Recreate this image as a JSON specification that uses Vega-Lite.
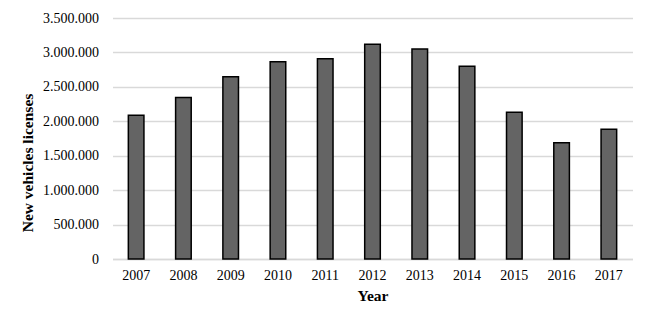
{
  "$schema": "https://vega.github.io/schema/vega-lite/v6.json",
  "width": 520,
  "height": 241,
  "autosize": "none",
  "padding": {"left": 112.5, "top": 18, "right": 17.5, "bottom": 67},
  "background": "white",
  "config": {
    "locale": {"number": {"decimal": ",", "thousands": ".", "grouping": [3], "currency": ["", "€"]}},
    "view": {"stroke": null},
    "font": "Liberation Serif",
    "axis": {"labelFont": "Liberation Serif", "titleFont": "Liberation Serif", "labelColor": "black", "titleColor": "black", "labelFontSize": 14, "titleFontSize": 15.5, "titleFontWeight": "bold", "ticks": false}
  },
  "data": {
    "values": [
      {"year": "2007", "licenses": 2089000},
      {"year": "2008", "licenses": 2345000},
      {"year": "2009", "licenses": 2645000},
      {"year": "2010", "licenses": 2863000},
      {"year": "2011", "licenses": 2907000},
      {"year": "2012", "licenses": 3120000},
      {"year": "2013", "licenses": 3048000},
      {"year": "2014", "licenses": 2800000},
      {"year": "2015", "licenses": 2132000},
      {"year": "2016", "licenses": 1690000},
      {"year": "2017", "licenses": 1885000}
    ]
  },
  "mark": {"type": "bar", "fill": "#646464", "stroke": "black", "strokeWidth": 1.5},
  "encoding": {
    "x": {
      "field": "year", "type": "ordinal", "title": "Year",
      "scale": {"paddingInner": 0.67, "paddingOuter": 0.335},
      "axis": {"labelAngle": 0, "domain": true, "domainColor": "#d9d9d9", "domainWidth": 1.5, "labelPadding": 9, "titlePadding": 6}
    },
    "y": {
      "field": "licenses", "type": "quantitative", "title": "New vehicles licenses",
      "scale": {"domain": [0, 3500000], "nice": false},
      "axis": {"values": [0, 500000, 1000000, 1500000, 2000000, 2500000, 3000000, 3500000], "format": ",d", "domain": false, "gridColor": "#d9d9d9", "gridWidth": 1.5, "labelPadding": 14, "titlePadding": 7, "titleY": 144.5}
    }
  }
}
